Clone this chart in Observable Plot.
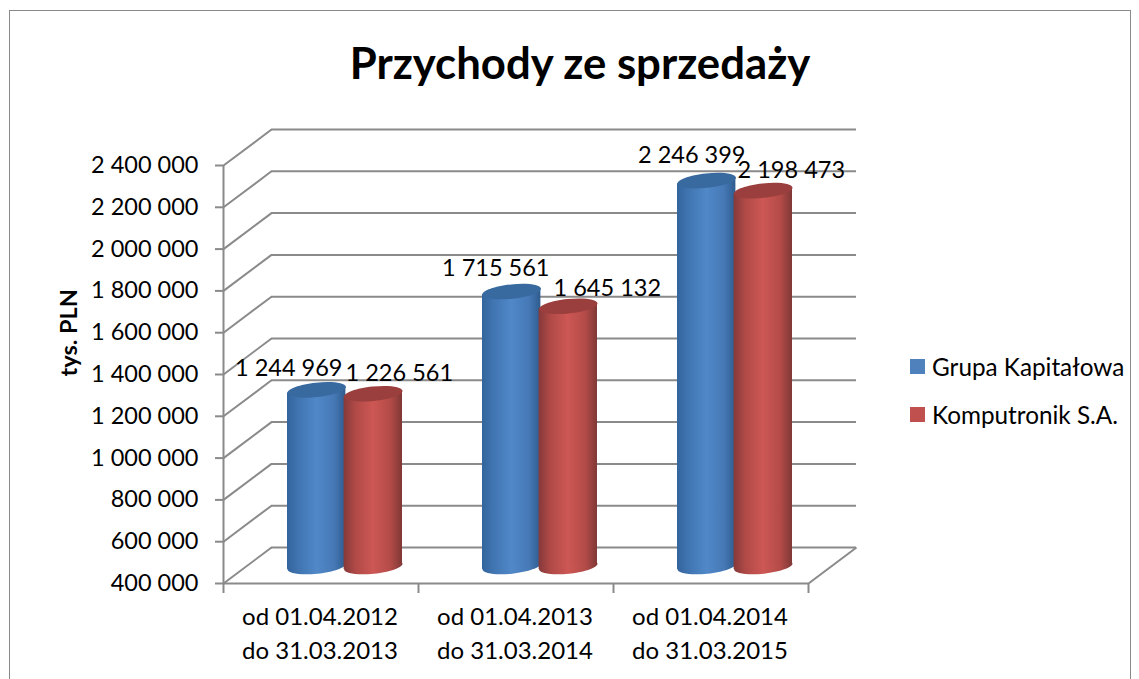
<!DOCTYPE html>
<html lang="pl">
<head>
<meta charset="utf-8">
<script src="https://cdn.jsdelivr.net/npm/d3@7"></script>
<script src="https://cdn.jsdelivr.net/npm/@observablehq/plot@0.6"></script>
<style>
  html, body { margin: 0; padding: 0; background: #fff; }
  #chart { position: relative; width: 1139px; height: 679px; overflow: hidden; font-family: Lato, sans-serif; color: #000; }
  #frame { position: absolute; left: 9px; top: 10px; width: 1120px; height: 700px; border: 1.5px solid #8a8a8a; }
  #title { position: absolute; left: 9px; width: 1142px; top: 36px; margin: 0; text-align: center; font-size: 43.7px; line-height: 52px; font-weight: 700; }
  #plot { position: absolute; left: 0; top: 0; }
  #legend { position: absolute; left: 910px; top: 342px; font-size: 24.3px; }
  .item { position: absolute; left: 0; white-space: nowrap; display: flex; align-items: center; height: 48px; }
  .swatch { display: inline-block; width: 15px; height: 15px; margin-right: 7px; }
</style>
</head>
<body>
<div id="chart">
  <div id="frame"></div>
  <h1 id="title"></h1>
  <div id="plot"></div>
  <div id="legend"></div>
</div>
<script>
const chartTitle = "Przychody ze sprzedaży";
const yTitle = "tys. PLN";
const periods = ["od 01.04.2012\ndo 31.03.2013", "od 01.04.2013\ndo 31.03.2014", "od 01.04.2014\ndo 31.03.2015"];
const seriesNames = ["Grupa Kapitałowa", "Komputronik S.A."];
const grupaKapitalowa = [1244969, 1715561, 2246399];
const komputronik = [1226561, 1645132, 2198473];
const yTicks = [400000, 600000, 800000, 1000000, 1200000, 1400000, 1600000, 1800000, 2000000, 2200000, 2400000];

// oblique projection of the 3D box, in data units of the two scales
const pxPerCat = 195, pxPerVal = 418 / 2000000;
const wallX = 48 / pxPerCat, wallY = 36 / pxPerVal;
const barShiftX = 24 / pxPerCat, barShiftY = 17 / pxPerVal;
const barSep = 28.3 / pxPerCat, barHalf = 29.2 / pxPerCat;
const tiltPx = 3.05;
const grid = "#8a8a8a", gw = 2;
const fmt = v => d3.format(",")(v).replace(/,/g, " ");

// tilted ellipse symbol for the cylinder caps
function ellipse(rx, ry, deg) {
  const a = deg * Math.PI / 180, c = Math.cos(a), s = Math.sin(a), k = 0.5523;
  const p = (x, y) => [x * rx * c - y * ry * s, x * rx * s + y * ry * c];
  return { draw(ctx) {
    ctx.moveTo(...p(1, 0));
    ctx.bezierCurveTo(...p(1, k), ...p(k, 1), ...p(0, 1));
    ctx.bezierCurveTo(...p(-k, 1), ...p(-1, k), ...p(-1, 0));
    ctx.bezierCurveTo(...p(-1, -k), ...p(-k, -1), ...p(0, -1));
    ctx.bezierCurveTo(...p(k, -1), ...p(1, -k), ...p(1, 0));
    ctx.closePath();
  }};
}
const cap = ellipse(29.35, 7.2, -6);

function gradientDefs() {
  const ns = "http://www.w3.org/2000/svg";
  const defs = document.createElementNS(ns, "defs");
  const make = (id, stops) => {
    const g = document.createElementNS(ns, "linearGradient");
    g.setAttribute("id", id);
    stops.forEach(([o, c]) => {
      const s = document.createElementNS(ns, "stop");
      s.setAttribute("offset", o); s.setAttribute("stop-color", c);
      g.appendChild(s);
    });
    defs.appendChild(g);
  };
  make("cylBlue", [[0, "#33649c"], [0.18, "#3f74b0"], [0.5, "#5088c8"], [0.8, "#4679b6"], [1, "#2f5c8f"]]);
  make("cylRed", [[0, "#85393a"], [0.2, "#b04a47"], [0.5, "#cd5754"], [0.8, "#b34b48"], [1, "#7f3836"]]);
  return defs;
}

function cylinder(values, side, bodyFill, topFill) {
  const rows = values.map((v, i) => ({ i, v, x: i + 0.5 + side * barSep + barShiftX }));
  const tilt = tiltPx / pxPerVal;
  const base = 400000 + barShiftY;
  // body: a sheared band whose ends meet the tilted caps at their outer points
  const edges = rows.flatMap(d => [-1, 1].map(e => ({
    i: d.i,
    x: d.x + e * barHalf,
    y1: base + e * tilt,
    y2: d.v + barShiftY + e * tilt
  })));
  return [
    Plot.dot(rows, { x: "x", y: () => base, symbol: cap, r: 5, fill: bodyFill, stroke: "none" }),
    Plot.areaY(edges, { x: "x", y1: "y1", y2: "y2", z: "i", fill: bodyFill, curve: "linear" }),
    Plot.dot(rows, { x: "x", y: d => d.v + barShiftY, symbol: cap, r: 5, fill: topFill, stroke: "none" })
  ];
}

// each data label sits at its own hand-placed offset in the reference
const labelOffsets = [
  [[-28, -21], [-16, -23], [-15, -25]],
  [[26, -20], [39, -18], [28, -20]]
];
function valueLabels(values, side, s) {
  return values.map((v, i) => Plot.text([v], {
    x: () => i + 0.5 + side * barSep + barShiftX,
    y: () => v + barShiftY,
    text: d => fmt(d),
    dx: labelOffsets[s][i][0], dy: labelOffsets[s][i][1],
    fontSize: 23.5, fill: "#000"
  }));
}

const plot = Plot.plot({
  width: 1139, height: 679,
  marginLeft: 223, marginRight: 331, marginTop: 165, marginBottom: 96,
  x: { domain: [0, 3], axis: null },
  y: { domain: [400000, 2400000], axis: null },
  style: { fontFamily: "Lato, sans-serif", color: "#000", background: "transparent" },
  marks: [
    gradientDefs,
    Plot.ruleY(yTicks, { x1: wallX, x2: 3 + wallX, y: d => d + wallY, stroke: grid, strokeWidth: gw }),
    Plot.link(yTicks, { x1: 0, x2: wallX, y1: d => d, y2: d => d + wallY, stroke: grid, strokeWidth: gw }),
    Plot.link([400000], { x1: 3, x2: 3 + wallX, y1: d => d, y2: d => d + wallY, stroke: grid, strokeWidth: gw }),
    Plot.ruleX([0], { y1: 400000, y2: 2400000, stroke: grid, strokeWidth: gw }),
    Plot.ruleY([400000], { x1: 0, x2: 3, stroke: grid, strokeWidth: gw }),
    Plot.axisY({ ticks: yTicks, tickFormat: fmt, tickSize: 8, tickPadding: 17, stroke: grid, strokeWidth: gw, fill: "#000", fontSize: 23.5, label: null }),
    Plot.axisX({ ticks: [0, 1, 2, 3], tickFormat: () => "", tickSize: 10, stroke: grid, strokeWidth: gw, label: null }),
    Plot.axisX({ ticks: [0.5, 1.5, 2.5], tickFormat: d => periods[Math.floor(d)], tickSize: 0, tickPadding: 17, dx: -1, fill: "#000", fontSize: 24, lineHeight: 1.42, label: null }),
    Plot.text([yTitle], { frameAnchor: "left", rotate: -90, dx: -154, dy: 2, fontSize: 23.5, fontWeight: 700, fill: "#000" }),
    ...cylinder(grupaKapitalowa, -1, "url(#cylBlue)", "#386a9f"),
    ...cylinder(komputronik, 1, "url(#cylRed)", "#9a3f3d"),
    ...valueLabels(grupaKapitalowa, -1, 0),
    ...valueLabels(komputronik, 1, 1)
  ]
});
document.getElementById("plot").appendChild(plot);
document.getElementById("title").textContent = chartTitle;

const legend = document.getElementById("legend");
const legendColors = ["#4f81bd", "#c0504d"];
seriesNames.forEach((name, k) => {
  const item = document.createElement("div");
  item.className = "item";
  item.style.top = (k * 48.5) + "px";
  const sw = document.createElement("span");
  sw.className = "swatch";
  sw.style.background = legendColors[k];
  item.appendChild(sw);
  item.appendChild(document.createTextNode(name));
  legend.appendChild(item);
});
</script>
</body>
</html>
